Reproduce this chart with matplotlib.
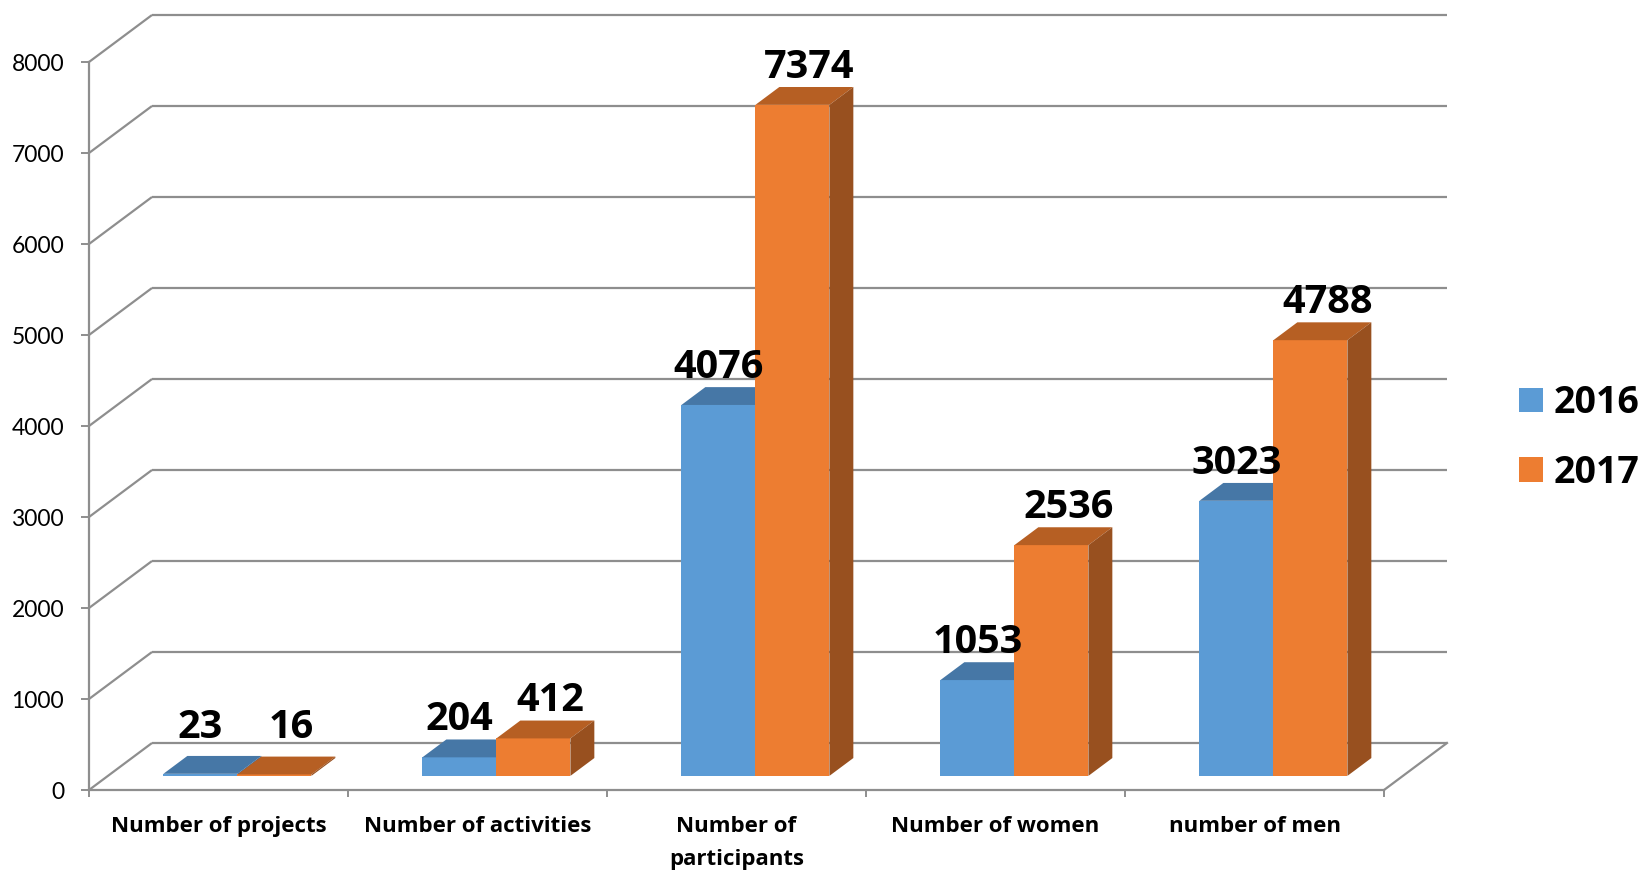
import matplotlib
matplotlib.use("Agg")
import matplotlib.pyplot as plt
from matplotlib.patches import Polygon, Patch
from matplotlib import transforms
import numpy as np

# ---------------- data ----------------
categories = ["Number of projects", "Number of activities", "Number of\nparticipants",
              "Number of women", "number of men"]
series_names = ["2016", "2017"]
values_2016 = [23, 204, 4076, 1053, 3023]
values_2017 = [16, 412, 7374, 2536, 4788]
y_ticks = [0, 1000, 2000, 3000, 4000, 5000, 6000, 7000, 8000]

# ---------------- style ----------------
plt.rcParams["font.family"] = ["Lato", "DejaVu Sans"]
BOLD_FAMILY = ["Open Sans", "DejaVu Sans"]
GRID = "#8e8e8e"
front_cols = ["#5b9bd5", "#ed7d31"]
top_cols = ["#4677a6", "#b65f23"]
side_cols = ["#3f6c98", "#98501f"]
label_dx_px = [0, 17]          # horizontal nudge of value labels per series
DEPTH_PX = (63, 47)            # oblique depth of the 3-D box (pixels)
ZF, ZB = 0.30, 0.68            # bar front / back depth fractions
BAR_W = 2 / 7                  # bar width in category units (gap 150%)

W, H = 1644, 871
fig = plt.figure(figsize=(W / 100, H / 100), dpi=100)
ax = fig.add_axes([89 / W, 81 / H, 1295 / W, 728 / H])
ncat = len(categories)
ax.set_xlim(0, ncat)
ax.set_ylim(0, y_ticks[-1])

bb = ax.get_window_extent()
ddx = DEPTH_PX[0] * ncat / bb.width
ddy = DEPTH_PX[1] * y_ticks[-1] / bb.height

# ---------------- walls / gridlines ----------------
for v in y_ticks:
    ax.plot([0, ddx], [v, v + ddy], color=GRID, lw=1.6, clip_on=False, zorder=1,
            solid_capstyle="butt")
    ax.plot([ddx, ncat + ddx], [v + ddy, v + ddy], color=GRID, lw=1.6, clip_on=False,
            zorder=1, solid_capstyle="butt")
ax.plot([ncat, ncat + ddx], [0, ddy], color=GRID, lw=1.6, clip_on=False, zorder=1)

# ---------------- bars ----------------
front_tr = transforms.offset_copy(ax.transData, fig=fig, x=ZF * DEPTH_PX[0],
                                  y=ZF * DEPTH_PX[1], units="dots")
series = [values_2016, values_2017]
z = 3.0
for i in range(ncat):
    for s, vals in enumerate(series):
        v = vals[i]
        x0 = i + 0.5 - BAR_W + s * BAR_W
        x1 = x0 + BAR_W
        fx0, fx1 = x0 + ZF * ddx, x1 + ZF * ddx
        bx0, bx1 = x0 + ZB * ddx, x1 + ZB * ddx
        fy0, by0 = ZF * ddy, ZB * ddy
        # front face (a real bar, shifted into depth)
        ax.bar(x0, v, width=BAR_W, align="edge", color=front_cols[s], lw=0,
               transform=front_tr, zorder=z, clip_on=False)
        # top face
        ax.add_patch(Polygon([(fx0, v + fy0), (fx1, v + fy0), (bx1, v + by0), (bx0, v + by0)],
                             closed=True, facecolor=top_cols[s], lw=0, zorder=z + 0.001,
                             clip_on=False))
        # side face
        ax.add_patch(Polygon([(fx1, fy0), (bx1, by0), (bx1, v + by0), (fx1, v + fy0)],
                             closed=True, facecolor=side_cols[s], lw=0, zorder=z + 0.002,
                             clip_on=False))
        z += 0.01

# value labels
for i in range(ncat):
    for s, vals in enumerate(series):
        v = vals[i]
        cx = i + 0.5 - BAR_W / 2 + s * BAR_W + ZF * ddx
        ax.annotate(str(v), xy=(cx, max(v, 120) + ZF * ddy),
                    xytext=(label_dx_px[s], 27), textcoords="offset pixels",
                    ha="center", va="baseline", fontsize=28.5, fontweight="bold",
                    family=BOLD_FAMILY, color="black", zorder=10,
                    annotation_clip=False)

# ---------------- axes ----------------
for sp in ["top", "right"]:
    ax.spines[sp].set_visible(False)
for sp in ["left", "bottom"]:
    ax.spines[sp].set_color(GRID)
    ax.spines[sp].set_linewidth(1.6)
ax.set_yticks(y_ticks)
ax.set_yticklabels([str(t) for t in y_ticks])
ax.tick_params(axis="y", length=6, width=1.4, color=GRID, pad=12, labelsize=16.5,
               direction="out")
ax.set_xticks(range(ncat + 1))
ax.set_xticklabels([])
ax.tick_params(axis="x", which="major", length=5, width=1.4, color=GRID, direction="out")
ax.set_xticks(np.arange(ncat) + 0.5, minor=True)
ax.set_xticklabels(categories, minor=True, fontweight="bold", fontsize=16,
                   family=BOLD_FAMILY, linespacing=1.75)
ax.tick_params(axis="x", which="minor", length=0, pad=19)
ax.patch.set_visible(False)

# ---------------- legend ----------------
handles = [Patch(facecolor=front_cols[k], edgecolor="none") for k in range(2)]
fig.legend(handles, series_names, loc="center left",
           bbox_to_anchor=(1519 / W, (H - 438) / H), bbox_transform=fig.transFigure,
           frameon=False, borderpad=0, borderaxespad=0, handlelength=0.63,
           handleheight=0.63, handletextpad=0.3, labelspacing=0.85,
           prop={"family": BOLD_FAMILY, "weight": "bold", "size": 27})

fig.savefig("out.png", dpi=100)
